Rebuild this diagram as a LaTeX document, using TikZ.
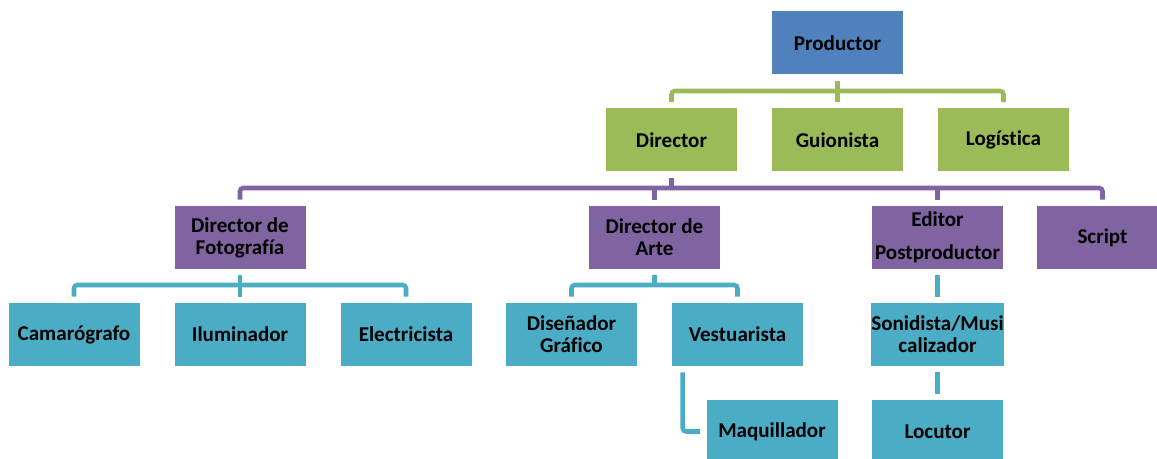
\documentclass[tikz,border=0pt]{standalone}
\usepackage{fontspec}
\setmainfont[Ligatures={NoCommon,NoContextual}]{Carlito}
\usetikzlibrary{calc}
\definecolor{cblue}{HTML}{4F81BD}
\definecolor{cgreen}{HTML}{9BBB59}
\definecolor{cpurple}{HTML}{8064A2}
\definecolor{cteal}{HTML}{4BACC6}
\begin{document}
\begin{tikzpicture}[x=0.75pt,y=-0.75pt,
  box/.style={minimum width=98.25pt,minimum height=47.25pt,inner sep=0pt,align=center,
    font=\fontsize{15.8}{16.5}\selectfont\bfseries,text=black},
  bbox/.style={box,fill=cblue},
  gbox/.style={box,fill=cgreen},
  pbox/.style={box,fill=cpurple},
  tbox/.style={box,fill=cteal},
  conn/.style={line width=3.4pt,rounded corners=2.5pt},
  gline/.style={conn,draw=cgreen},
  pline/.style={conn,draw=cpurple},
  tline/.style={conn,draw=cteal}]
\useasboundingbox (0,0) rectangle (1157,459);
\node[bbox] (prod) at (837.5,43) {Productor};
\node[gbox] (dir) at (671.5,140) {Director};
\node[gbox] (guion) at (837.5,140) {Guionista};
\node[gbox] (logi) at (1003.5,140) {Logís\kern0pt tica};
\node[pbox] (dfoto) at (240,237.5) {Director de\\Fotografía};
\node[pbox] (darte) at (654.5,237.5) {Director de\\Arte};
\node[pbox] (editor) at (937.5,237.5) {Editor\\[8pt]Postproductor};
\node[pbox] (script) at (1102.5,237.5) {Script};
\node[tbox] (cam) at (74,334.5) {Camarógrafo};
\node[tbox] (ilum) at (240,334.5) {Iluminador};
\node[tbox] (elec) at (406,334.5) {Electricista};
\node[tbox] (dis) at (571.5,334.5) {Diseñador\\Gráf\kern0pt ico};
\node[tbox] (vest) at (737.5,334.5) {Vestuarista};
\node[tbox] (son) at (937.5,334.5) {Sonidista/Musi\\calizador};
\node[tbox] (maq) at (772,431.5) {Maquillador};
\node[tbox] (loc) at (937.5,431.5) {Locutor};
% green
\coordinate (gbus) at (837.5,91);
\draw[gline] ($(dir.north)+(0,-6)$) -- (dir.north |- gbus) -- (logi.north |- gbus) -- ($(logi.north)+(0,-6)$);
\draw[gline] ($(prod.south)+(0,6)$) -- ($(guion.north)+(0,-6)$);
% purple
\coordinate (pbus) at (671.5,188);
\draw[pline] ($(dfoto.north)+(0,-6)$) -- (dfoto.north |- pbus) -- (script.north |- pbus) -- ($(script.north)+(0,-6)$);
\draw[pline] ($(dir.south)+(0,6)$) -- (dir.south |- pbus);
\draw[pline] (darte.north |- pbus) -- ($(darte.north)+(0,-6)$);
\draw[pline] (editor.north |- pbus) -- ($(editor.north)+(0,-6)$);
% teal under Director de Fotografia
\coordinate (tbus1) at (240,285);
\draw[tline] ($(cam.north)+(0,-6)$) -- (cam.north |- tbus1) -- (elec.north |- tbus1) -- ($(elec.north)+(0,-6)$);
\draw[tline] ($(dfoto.south)+(0,6)$) -- ($(ilum.north)+(0,-6)$);
% teal under Director de Arte
\coordinate (tbus2) at (654.5,285);
\draw[tline] ($(dis.north)+(0,-6)$) -- (dis.north |- tbus2) -- (vest.north |- tbus2) -- ($(vest.north)+(0,-6)$);
\draw[tline] ($(darte.south)+(0,6)$) -- (darte.south |- tbus2);
\draw[tline] ($(vest.south west)+(11,6)$) |- ($(maq.west)+(-6,0)$);
% teal editor chain
\draw[tline] ($(editor.south)+(0,6)$) -- ($(son.north)+(0,-6)$);
\draw[tline] ($(son.south)+(0,6)$) -- ($(loc.north)+(0,-6)$);
\end{tikzpicture}
\end{document}
